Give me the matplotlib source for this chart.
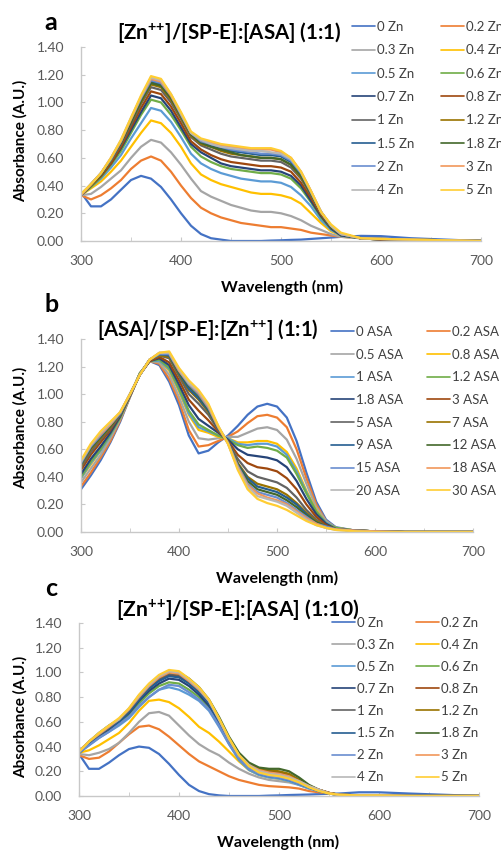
import matplotlib
matplotlib.use("Agg")
import matplotlib.pyplot as plt

plt.rcParams["font.family"] = ["Lato", "DejaVu Sans"]
plt.rcParams["mathtext.fontset"] = "custom"
plt.rcParams["mathtext.rm"] = "Lato"
plt.rcParams["mathtext.bf"] = "Lato:bold"

# wavelength grid (nm) shared by all spectra
WL = [300, 310, 320, 330, 340, 350, 360, 370, 380, 390, 400, 410, 420, 430, 440, 450,
      460, 470, 480, 490, 500, 510, 520, 530, 540, 550, 560, 580, 600, 630, 700]

COLORS = ["#4472C4", "#ED7D31", "#A5A5A5", "#FFC000", "#5B9BD5", "#70AD47", "#264478", "#9E480E",
          "#636363", "#997300", "#255E91", "#43682B", "#698ED0", "#F1975A", "#B7B7B7", "#FFCD33"]

# ---- panel a: [Zn++]/[SP-E]:[ASA] (1:1) ----
a_labels = ["0 Zn", "0.2 Zn", "0.3 Zn", "0.4 Zn", "0.5 Zn", "0.6 Zn", "0.7 Zn", "0.8 Zn",
            "1 Zn", "1.2 Zn", "1.5 Zn", "1.8 Zn", "2 Zn", "3 Zn", "4 Zn", "5 Zn"]
a_zn_0 = [0.35, 0.25, 0.25, 0.30, 0.37, 0.44, 0.47, 0.45, 0.39, 0.30, 0.20, 0.11, 0.05, 0.02, 0.01, 0.0,
          0.0, 0.0, 0.0, 0.003, 0.005, 0.008, 0.01, 0.015, 0.02, 0.025, 0.03, 0.037, 0.035, 0.02, 0.0]
a_zn_0p2 = [0.33, 0.30, 0.33, 0.38, 0.44, 0.52, 0.58, 0.61, 0.58, 0.50, 0.40, 0.31, 0.24, 0.20, 0.17, 0.15,
            0.13, 0.12, 0.11, 0.10, 0.10, 0.09, 0.08, 0.06, 0.05, 0.04, 0.03, 0.02, 0.01, 0.005, 0.0]
a_zn_0p3 = [0.33, 0.34, 0.39, 0.45, 0.51, 0.60, 0.68, 0.73, 0.71, 0.64, 0.55, 0.45, 0.36, 0.32, 0.29, 0.26,
            0.24, 0.22, 0.21, 0.21, 0.20, 0.18, 0.15, 0.11, 0.08, 0.05, 0.03, 0.02, 0.01, 0.005, 0.0]
a_zn_0p4 = [0.33, 0.38, 0.43, 0.50, 0.58, 0.68, 0.78, 0.87, 0.85, 0.78, 0.68, 0.56, 0.48, 0.44, 0.41, 0.39,
            0.37, 0.35, 0.34, 0.34, 0.33, 0.31, 0.27, 0.20, 0.13, 0.07, 0.04, 0.02, 0.01, 0.005, 0.0]
a_zn_0p5 = [0.33, 0.39, 0.45, 0.53, 0.62, 0.74, 0.85, 0.96, 0.94, 0.86, 0.75, 0.63, 0.56, 0.52, 0.49, 0.47,
            0.45, 0.44, 0.43, 0.43, 0.42, 0.39, 0.33, 0.25, 0.15, 0.08, 0.04, 0.02, 0.01, 0.005, 0.0]
a_zn_0p6 = [0.33, 0.39, 0.46, 0.55, 0.65, 0.78, 0.91, 1.02, 1.00, 0.91, 0.80, 0.68, 0.61, 0.57, 0.54, 0.52,
            0.51, 0.50, 0.49, 0.49, 0.48, 0.45, 0.38, 0.28, 0.17, 0.09, 0.04, 0.02, 0.01, 0.005, 0.0]
a_zn_0p7 = [0.33, 0.40, 0.47, 0.56, 0.67, 0.80, 0.93, 1.05, 1.03, 0.94, 0.82, 0.70, 0.64, 0.60, 0.56, 0.54,
            0.53, 0.52, 0.51, 0.51, 0.50, 0.47, 0.40, 0.29, 0.18, 0.09, 0.04, 0.02, 0.01, 0.005, 0.0]
a_zn_0p8 = [0.33, 0.40, 0.47, 0.56, 0.68, 0.82, 0.96, 1.08, 1.06, 0.97, 0.85, 0.72, 0.66, 0.62, 0.59, 0.57,
            0.56, 0.55, 0.54, 0.54, 0.53, 0.50, 0.42, 0.31, 0.19, 0.10, 0.05, 0.02, 0.01, 0.005, 0.0]
a_zn_1 = [0.33, 0.40, 0.48, 0.58, 0.70, 0.84, 0.99, 1.11, 1.09, 1.00, 0.88, 0.75, 0.69, 0.66, 0.63, 0.61,
          0.60, 0.59, 0.58, 0.58, 0.57, 0.53, 0.45, 0.33, 0.20, 0.10, 0.05, 0.02, 0.015, 0.01, 0.0]
a_zn_1p2 = [0.33, 0.40, 0.48, 0.58, 0.71, 0.86, 1.00, 1.13, 1.11, 1.02, 0.89, 0.76, 0.70, 0.68, 0.65, 0.63,
            0.62, 0.61, 0.60, 0.60, 0.59, 0.55, 0.46, 0.34, 0.20, 0.10, 0.05, 0.02, 0.015, 0.01, 0.0]
a_zn_1p5 = [0.33, 0.41, 0.49, 0.59, 0.71, 0.87, 1.02, 1.15, 1.13, 1.04, 0.91, 0.77, 0.71, 0.69, 0.67, 0.65,
            0.64, 0.63, 0.62, 0.62, 0.61, 0.57, 0.48, 0.35, 0.21, 0.11, 0.05, 0.02, 0.015, 0.01, 0.0]
a_zn_1p8 = [0.33, 0.41, 0.48, 0.59, 0.71, 0.86, 1.01, 1.14, 1.12, 1.03, 0.90, 0.77, 0.71, 0.68, 0.66, 0.64,
            0.62, 0.61, 0.60, 0.60, 0.59, 0.55, 0.47, 0.34, 0.21, 0.10, 0.05, 0.02, 0.015, 0.01, 0.0]
a_zn_2 = [0.33, 0.41, 0.49, 0.59, 0.72, 0.88, 1.03, 1.16, 1.14, 1.05, 0.91, 0.78, 0.72, 0.70, 0.68, 0.66,
          0.65, 0.64, 0.63, 0.63, 0.62, 0.58, 0.49, 0.35, 0.21, 0.11, 0.05, 0.02, 0.015, 0.01, 0.0]
a_zn_3 = [0.33, 0.41, 0.49, 0.60, 0.72, 0.88, 1.04, 1.17, 1.15, 1.05, 0.92, 0.78, 0.73, 0.71, 0.69, 0.68,
          0.67, 0.66, 0.66, 0.66, 0.64, 0.60, 0.50, 0.36, 0.21, 0.11, 0.05, 0.02, 0.015, 0.01, 0.0]
a_zn_4 = [0.34, 0.41, 0.49, 0.60, 0.73, 0.89, 1.04, 1.18, 1.16, 1.06, 0.92, 0.78, 0.73, 0.70, 0.68, 0.67,
          0.66, 0.65, 0.65, 0.64, 0.63, 0.59, 0.50, 0.36, 0.21, 0.11, 0.05, 0.02, 0.015, 0.01, 0.0]
a_zn_5 = [0.34, 0.41, 0.49, 0.60, 0.73, 0.89, 1.05, 1.19, 1.17, 1.06, 0.93, 0.79, 0.74, 0.72, 0.70, 0.69,
          0.68, 0.67, 0.67, 0.67, 0.65, 0.60, 0.50, 0.36, 0.21, 0.12, 0.06, 0.02, 0.015, 0.01, 0.0]

# ---- panel b: [ASA]/[SP-E]:[Zn++] (1:1) ----
b_labels = ["0 ASA", "0.2 ASA", "0.5 ASA", "0.8 ASA", "1 ASA", "1.2 ASA", "1.8 ASA", "3 ASA",
            "5 ASA", "7 ASA", "9 ASA", "12 ASA", "15 ASA", "18 ASA", "20 ASA", "30 ASA"]
b_asa_0 = [0.31, 0.41, 0.52, 0.65, 0.80, 0.98, 1.15, 1.24, 1.21, 1.09, 0.92, 0.70, 0.57, 0.59, 0.65, 0.70,
           0.77, 0.85, 0.91, 0.93, 0.91, 0.83, 0.66, 0.43, 0.22, 0.09, 0.035, 0.01, 0.005, 0.0, 0.0]
b_asa_0p2 = [0.33, 0.43, 0.54, 0.66, 0.81, 0.98, 1.15, 1.24, 1.22, 1.11, 0.95, 0.74, 0.62, 0.63, 0.66, 0.69,
             0.73, 0.79, 0.84, 0.85, 0.83, 0.76, 0.60, 0.39, 0.20, 0.08, 0.03, 0.01, 0.005, 0.0, 0.0]
b_asa_0p5 = [0.36, 0.46, 0.56, 0.68, 0.82, 0.98, 1.15, 1.24, 1.23, 1.14, 0.98, 0.80, 0.68, 0.67, 0.68, 0.69,
             0.69, 0.72, 0.75, 0.76, 0.74, 0.67, 0.53, 0.35, 0.18, 0.08, 0.03, 0.01, 0.005, 0.0, 0.0]
b_asa_0p8 = [0.39, 0.49, 0.59, 0.70, 0.83, 0.99, 1.15, 1.24, 1.24, 1.17, 1.02, 0.85, 0.74, 0.72, 0.69, 0.68,
             0.65, 0.65, 0.66, 0.66, 0.64, 0.58, 0.46, 0.30, 0.16, 0.07, 0.03, 0.01, 0.005, 0.0, 0.0]
b_asa_1 = [0.39, 0.50, 0.59, 0.70, 0.83, 0.99, 1.15, 1.24, 1.24, 1.18, 1.03, 0.86, 0.76, 0.73, 0.70, 0.68,
           0.64, 0.63, 0.64, 0.64, 0.62, 0.56, 0.44, 0.29, 0.15, 0.07, 0.03, 0.01, 0.005, 0.0, 0.0]
b_asa_1p2 = [0.40, 0.51, 0.60, 0.71, 0.83, 0.99, 1.15, 1.24, 1.25, 1.19, 1.04, 0.88, 0.78, 0.74, 0.70, 0.67,
             0.63, 0.61, 0.62, 0.61, 0.59, 0.54, 0.42, 0.28, 0.15, 0.06, 0.03, 0.01, 0.005, 0.0, 0.0]
b_asa_1p8 = [0.42, 0.53, 0.62, 0.72, 0.84, 0.99, 1.14, 1.24, 1.26, 1.21, 1.07, 0.92, 0.82, 0.77, 0.72, 0.67,
             0.60, 0.56, 0.55, 0.54, 0.52, 0.47, 0.37, 0.24, 0.13, 0.06, 0.02, 0.01, 0.005, 0.0, 0.0]
b_asa_3 = [0.45, 0.56, 0.65, 0.74, 0.85, 0.99, 1.14, 1.24, 1.27, 1.23, 1.10, 0.96, 0.88, 0.81, 0.73, 0.66,
           0.56, 0.50, 0.47, 0.46, 0.44, 0.39, 0.31, 0.20, 0.11, 0.05, 0.02, 0.01, 0.005, 0.0, 0.0]
b_asa_5 = [0.47, 0.58, 0.67, 0.75, 0.85, 0.99, 1.14, 1.25, 1.28, 1.26, 1.13, 1.00, 0.93, 0.85, 0.74, 0.65,
           0.53, 0.44, 0.40, 0.38, 0.36, 0.32, 0.25, 0.16, 0.09, 0.04, 0.02, 0.01, 0.005, 0.0, 0.0]
b_asa_7 = [0.48, 0.60, 0.68, 0.76, 0.86, 1.00, 1.14, 1.25, 1.28, 1.27, 1.14, 1.03, 0.96, 0.87, 0.75, 0.65,
           0.50, 0.40, 0.35, 0.33, 0.31, 0.27, 0.21, 0.14, 0.08, 0.04, 0.02, 0.01, 0.005, 0.0, 0.0]
b_asa_9 = [0.49, 0.61, 0.69, 0.77, 0.86, 1.00, 1.14, 1.25, 1.29, 1.28, 1.15, 1.04, 0.97, 0.88, 0.75, 0.65,
           0.49, 0.39, 0.33, 0.31, 0.29, 0.25, 0.20, 0.13, 0.07, 0.04, 0.02, 0.01, 0.005, 0.0, 0.0]
b_asa_12 = [0.50, 0.61, 0.69, 0.77, 0.86, 1.00, 1.14, 1.25, 1.29, 1.29, 1.16, 1.06, 0.99, 0.89, 0.76, 0.65,
            0.49, 0.37, 0.31, 0.29, 0.27, 0.23, 0.18, 0.12, 0.07, 0.04, 0.02, 0.01, 0.005, 0.0, 0.0]
b_asa_15 = [0.50, 0.62, 0.70, 0.78, 0.86, 1.00, 1.14, 1.25, 1.29, 1.29, 1.17, 1.07, 1.00, 0.90, 0.76, 0.65,
            0.48, 0.35, 0.29, 0.27, 0.25, 0.21, 0.16, 0.11, 0.06, 0.04, 0.02, 0.01, 0.005, 0.0, 0.0]
b_asa_18 = [0.51, 0.63, 0.71, 0.78, 0.87, 1.00, 1.14, 1.25, 1.30, 1.30, 1.17, 1.08, 1.01, 0.91, 0.76, 0.64,
            0.47, 0.34, 0.28, 0.25, 0.23, 0.20, 0.15, 0.10, 0.06, 0.03, 0.02, 0.01, 0.005, 0.0, 0.0]
b_asa_20 = [0.51, 0.63, 0.72, 0.79, 0.87, 1.00, 1.14, 1.25, 1.30, 1.30, 1.18, 1.08, 1.02, 0.92, 0.77, 0.64,
            0.46, 0.33, 0.26, 0.24, 0.22, 0.19, 0.14, 0.09, 0.05, 0.03, 0.015, 0.005, 0.0, 0.0, 0.0]
b_asa_30 = [0.52, 0.64, 0.73, 0.80, 0.87, 1.00, 1.14, 1.25, 1.30, 1.31, 1.19, 1.10, 1.03, 0.93, 0.77, 0.64,
            0.45, 0.31, 0.24, 0.21, 0.19, 0.16, 0.12, 0.08, 0.05, 0.03, 0.015, 0.005, 0.0, 0.0, 0.0]

# ---- panel c: [Zn++]/[SP-E]:[ASA] (1:10) ----
c_labels = a_labels
c_zn_0 = [0.34, 0.22, 0.22, 0.27, 0.33, 0.38, 0.40, 0.39, 0.34, 0.26, 0.17, 0.09, 0.04, 0.015, 0.005, 0.0,
          0.0, 0.0, 0.0, 0.003, 0.005, 0.008, 0.01, 0.012, 0.015, 0.018, 0.02, 0.03, 0.03, 0.02, 0.0]
c_zn_0p2 = [0.33, 0.30, 0.31, 0.36, 0.43, 0.50, 0.56, 0.57, 0.54, 0.48, 0.41, 0.34, 0.28, 0.24, 0.20, 0.16,
            0.13, 0.11, 0.09, 0.08, 0.075, 0.07, 0.06, 0.04, 0.03, 0.02, 0.01, 0.005, 0.005, 0.0, 0.0]
c_zn_0p3 = [0.34, 0.33, 0.35, 0.38, 0.43, 0.51, 0.60, 0.67, 0.68, 0.65, 0.57, 0.49, 0.42, 0.37, 0.33, 0.27,
            0.22, 0.18, 0.15, 0.13, 0.12, 0.11, 0.09, 0.06, 0.04, 0.02, 0.01, 0.005, 0.005, 0.0, 0.0]
c_zn_0p4 = [0.35, 0.37, 0.41, 0.46, 0.51, 0.59, 0.69, 0.77, 0.78, 0.76, 0.71, 0.64, 0.56, 0.51, 0.44, 0.36,
            0.28, 0.21, 0.17, 0.15, 0.14, 0.12, 0.10, 0.07, 0.04, 0.02, 0.01, 0.005, 0.005, 0.0, 0.0]
c_zn_0p5 = [0.35, 0.41, 0.47, 0.52, 0.57, 0.63, 0.72, 0.80, 0.86, 0.88, 0.86, 0.82, 0.77, 0.69, 0.56, 0.42,
            0.29, 0.21, 0.17, 0.15, 0.14, 0.12, 0.09, 0.06, 0.04, 0.02, 0.01, 0.005, 0.005, 0.0, 0.0]
c_zn_0p6 = [0.35, 0.42, 0.48, 0.53, 0.58, 0.65, 0.75, 0.83, 0.89, 0.92, 0.91, 0.86, 0.80, 0.71, 0.58, 0.43,
            0.30, 0.22, 0.18, 0.17, 0.16, 0.14, 0.10, 0.07, 0.04, 0.02, 0.01, 0.005, 0.005, 0.0, 0.0]
c_zn_0p7 = [0.35, 0.42, 0.49, 0.54, 0.60, 0.67, 0.77, 0.85, 0.91, 0.95, 0.94, 0.89, 0.82, 0.73, 0.59, 0.44,
            0.31, 0.23, 0.19, 0.17, 0.16, 0.14, 0.11, 0.07, 0.04, 0.02, 0.01, 0.005, 0.005, 0.0, 0.0]
c_zn_0p8 = [0.35, 0.43, 0.49, 0.55, 0.61, 0.68, 0.79, 0.87, 0.94, 0.98, 0.97, 0.92, 0.85, 0.76, 0.62, 0.46,
            0.33, 0.25, 0.21, 0.20, 0.19, 0.17, 0.13, 0.08, 0.05, 0.025, 0.01, 0.005, 0.005, 0.0, 0.0]
c_zn_1 = [0.36, 0.43, 0.50, 0.56, 0.61, 0.69, 0.80, 0.88, 0.95, 0.99, 0.98, 0.93, 0.86, 0.77, 0.62, 0.46,
          0.33, 0.25, 0.21, 0.19, 0.18, 0.16, 0.12, 0.08, 0.05, 0.025, 0.01, 0.005, 0.005, 0.0, 0.0]
c_zn_1p2 = [0.36, 0.44, 0.50, 0.56, 0.62, 0.70, 0.81, 0.89, 0.96, 1.00, 0.99, 0.94, 0.87, 0.77, 0.62, 0.46,
            0.34, 0.26, 0.22, 0.21, 0.20, 0.18, 0.13, 0.08, 0.05, 0.025, 0.01, 0.005, 0.005, 0.0, 0.0]
c_zn_1p5 = [0.35, 0.43, 0.49, 0.55, 0.60, 0.68, 0.78, 0.87, 0.93, 0.97, 0.96, 0.91, 0.84, 0.75, 0.60, 0.45,
            0.31, 0.23, 0.18, 0.16, 0.15, 0.13, 0.10, 0.07, 0.04, 0.02, 0.01, 0.005, 0.005, 0.0, 0.0]
c_zn_1p8 = [0.36, 0.44, 0.51, 0.57, 0.62, 0.70, 0.81, 0.90, 0.97, 1.01, 1.00, 0.95, 0.88, 0.78, 0.64, 0.48,
            0.35, 0.27, 0.23, 0.22, 0.22, 0.20, 0.15, 0.09, 0.05, 0.025, 0.01, 0.005, 0.005, 0.0, 0.0]
c_zn_2 = [0.35, 0.41, 0.47, 0.52, 0.58, 0.64, 0.73, 0.80, 0.86, 0.90, 0.89, 0.84, 0.78, 0.70, 0.57, 0.42,
          0.30, 0.22, 0.18, 0.16, 0.15, 0.13, 0.10, 0.07, 0.04, 0.02, 0.01, 0.005, 0.005, 0.0, 0.0]
c_zn_3 = [0.36, 0.44, 0.50, 0.56, 0.62, 0.70, 0.80, 0.89, 0.96, 1.00, 0.99, 0.93, 0.86, 0.77, 0.62, 0.46,
          0.33, 0.25, 0.21, 0.19, 0.18, 0.16, 0.12, 0.08, 0.05, 0.025, 0.01, 0.005, 0.005, 0.0, 0.0]
c_zn_4 = [0.36, 0.44, 0.51, 0.57, 0.62, 0.71, 0.81, 0.90, 0.97, 1.01, 1.00, 0.94, 0.87, 0.77, 0.62, 0.46,
          0.33, 0.25, 0.20, 0.18, 0.17, 0.15, 0.12, 0.08, 0.05, 0.02, 0.01, 0.005, 0.005, 0.0, 0.0]
c_zn_5 = [0.36, 0.44, 0.51, 0.57, 0.63, 0.71, 0.82, 0.91, 0.98, 1.02, 1.01, 0.95, 0.88, 0.78, 0.63, 0.47,
          0.33, 0.24, 0.19, 0.17, 0.16, 0.14, 0.11, 0.07, 0.04, 0.02, 0.01, 0.005, 0.005, 0.0, 0.0]

a_series = [a_zn_0, a_zn_0p2, a_zn_0p3, a_zn_0p4, a_zn_0p5, a_zn_0p6, a_zn_0p7, a_zn_0p8,
            a_zn_1, a_zn_1p2, a_zn_1p5, a_zn_1p8, a_zn_2, a_zn_3, a_zn_4, a_zn_5]
b_series = [b_asa_0, b_asa_0p2, b_asa_0p5, b_asa_0p8, b_asa_1, b_asa_1p2, b_asa_1p8, b_asa_3,
            b_asa_5, b_asa_7, b_asa_9, b_asa_12, b_asa_15, b_asa_18, b_asa_20, b_asa_30]
c_series = [c_zn_0, c_zn_0p2, c_zn_0p3, c_zn_0p4, c_zn_0p5, c_zn_0p6, c_zn_0p7, c_zn_0p8,
            c_zn_1, c_zn_1p2, c_zn_1p5, c_zn_1p8, c_zn_2, c_zn_3, c_zn_4, c_zn_5]

W, H = 502, 851
fig = plt.figure(figsize=(W / 100, H / 100), dpi=100)


def px_axes(x0, y0, x1, y1):
    return fig.add_axes([x0 / W, 1 - y1 / H, (x1 - x0) / W, (y1 - y0) / H])


def draw_panel(ax, series, labels, letter, title, letter_xy, title_xy, title_size, xlab_xy, ylab_xy,
               leg_xy, colspace, rowspace):
    lines = []
    for vals, lab, col in zip(series, labels, COLORS):
        ln, = ax.plot(WL, vals, color=col, lw=1.6, label=lab, solid_capstyle="round")
        lines.append(ln)
    ax.set_xlim(300, 700)
    ax.set_ylim(0, 1.4)
    ax.set_xticks([300, 400, 500, 600, 700])
    ax.set_xticks([350, 450, 550, 650], minor=True)
    ax.set_yticks([0, 0.2, 0.4, 0.6, 0.8, 1.0, 1.2, 1.4])
    ax.set_yticklabels([f"{v:.2f}" for v in ax.get_yticks()])
    for s in ["top", "right"]:
        ax.spines[s].set_visible(False)
    for s in ["left", "bottom"]:
        ax.spines[s].set_color("#C8C8C8")
        ax.spines[s].set_linewidth(1.0)
    ax.tick_params(which="both", direction="in", length=3, color="#C8C8C8", labelcolor="#595959",
                   labelsize=10)
    ax.tick_params(axis="y", pad=12)
    ax.tick_params(axis="x", pad=10)
    fig.text(letter_xy[0] / W, 1 - letter_xy[1] / H, letter, fontsize=18, fontweight="bold",
             ha="center", va="center")
    fig.text(title_xy[0] / W, 1 - title_xy[1] / H, title, fontsize=title_size, fontweight="bold",
             ha="center", va="center")
    fig.text(xlab_xy[0] / W, 1 - xlab_xy[1] / H, "Wavelength (nm)", fontsize=11.5, fontweight="bold",
             ha="center", va="center")
    fig.text(ylab_xy[0] / W, 1 - ylab_xy[1] / H, "Absorbance (A.U.)", fontsize=11, fontweight="bold",
             ha="center", va="center", rotation=90)
    # Excel fills the legend row by row
    order = list(range(0, 16, 2)) + list(range(1, 16, 2))
    leg = ax.legend([lines[i] for i in order], [labels[i] for i in order], ncol=2, loc="upper left",
                    bbox_to_anchor=(leg_xy[0] / W, 1 - leg_xy[1] / H), bbox_transform=fig.transFigure,
                    frameon=False, fontsize=9.5, borderpad=0, borderaxespad=0, handlelength=1.75,
                    handletextpad=0.15, columnspacing=colspace, labelspacing=rowspace,
                    labelcolor="#404040")
    for h in leg.legend_handles:
        h.set_linewidth(1.2)


ax_a = px_axes(81, 47, 481, 241)
draw_panel(ax_a, a_series, a_labels, "a", r"[Zn$^{\mathbf{{+}{+}}}$]/[SP-E]:[ASA] (1:1)",
           (51, 22), (229, 33), 14.8, (282, 287), (20, 141), (352, 21), 2.0, 0.86)

ax_b = px_axes(81, 339, 473, 532)
draw_panel(ax_b, b_series, b_labels, "b", r"[ASA]/[SP-E]:[Zn$^{\mathbf{{+}{+}}}$] (1:1)",
           (52, 305), (208, 330), 14.6, (277, 578), (20, 428), (331, 326), 1.8, 0.81)

ax_c = px_axes(79, 623, 479, 796)
draw_panel(ax_c, c_series, c_labels, "c", r"[Zn$^{\mathbf{{+}{+}}}$]/[SP-E]:[ASA] (1:10)",
           (51, 589), (238, 610), 15.2, (278, 842), (20, 717), (332, 617), 1.6, 0.76)

fig.savefig("out.png", dpi=100)
